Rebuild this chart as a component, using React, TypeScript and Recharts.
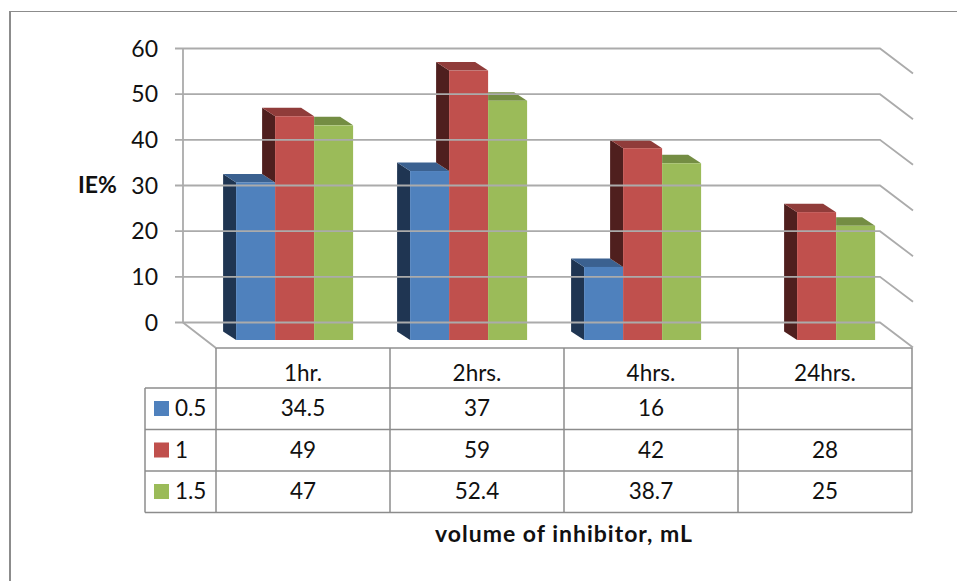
import { BarChart, Bar, XAxis, YAxis } from 'recharts';

const CATEGORIES = ['1hr.', '2hrs.', '4hrs.', '24hrs.'];
const SERIES_NAMES = ['0.5', '1', '1.5'];
const VALUES_05 = [34.5, 37, 16, null];
const VALUES_1 = [49, 59, 42, 28];
const VALUES_15 = [47, 52.4, 38.7, 25];
const Y_TICKS = [0, 10, 20, 30, 40, 50, 60];
const FRONT = ['#4F81BD', '#C0504D', '#9BBB59'];
const SIDE = ['#1F3552', '#4F1F1E', '#4F6030'];
const TOP = ['#3B6190', '#903C3A', '#748D43'];

const ALL_VALUES = [VALUES_05, VALUES_1, VALUES_15];
const DATA = CATEGORIES.map((name, i) => ({
  name,
  a: VALUES_05[i],
  b: VALUES_1[i],
  c: VALUES_15[i],
}));

const FONT = 'Lato, sans-serif';
const GREY = '#8C8C8C';
const WALL = '#ABABAB';

// bar plane sits in front of the back wall by this much
const WALL_DY = -17.5;
const SIDE_DX = 33;
const SIDE_DY = 25;
// depth of each 3d bar
const DX = 13;
const DY = 8.5;

const COL_X = [216, 390, 564, 738, 912];
const ROW_Y = [388, 429.5, 471, 512.5];
const TABLE_LEFT = 145;

const makeBar = (s: number) => (props: any) => {
  const { x, y, width, height, index } = props;
  const value = ALL_VALUES[s][index];
  if (value == null) return <g />;
  const bottom = y + height;
  const prev = s > 0 ? ALL_VALUES[s - 1][index] : null;
  const prevTop = prev == null ? bottom : bottom - (height / value) * prev;
  const hidden = prevTop < y;
  return (
    <g>
      {!hidden && (
        <polygon
          points={`${x},${y} ${x - DX},${y - DY} ${x - DX},${prevTop - DY} ${x},${prevTop}`}
          fill={SIDE[s]}
        />
      )}
      <polygon
        points={
          hidden
            ? `${x},${y} ${x},${y - DY} ${x + width - DX},${y - DY} ${x + width},${y}`
            : `${x},${y} ${x - DX},${y - DY} ${x + width - DX},${y - DY} ${x + width},${y}`
        }
        fill={TOP[s]}
      />
      <rect x={x} y={y} width={width} height={height} fill={FRONT[s]} />
    </g>
  );
};

const YTick = (props: any) => {
  const y = props.y + WALL_DY;
  return (
    <g>
      <polyline
        points={`175,${y} 880,${y} ${880 + SIDE_DX},${y + SIDE_DY}`}
        fill="none"
        stroke={WALL}
        strokeWidth={1.8}
      />
      <text x={158} y={y + 8} textAnchor="end" fontFamily={FONT} fontSize={23} fill="#111">
        {props.payload.value}
      </text>
    </g>
  );
};

const XTick = (props: any) => (
  <text
    x={props.x + 8.5}
    y={380.5}
    textAnchor="middle"
    fontFamily={FONT}
    fontSize={22.5}
    fill="#111"
  >
    {props.payload.value}
  </text>
);

const cell = { fontFamily: FONT, fontSize: 22.5, fill: '#111' };

function DataTable() {
  return (
    <g>
      {COL_X.map((x) => (
        <line key={x} x1={x} x2={x} y1={348} y2={ROW_Y[3]} stroke={GREY} strokeWidth={1.5} />
      ))}
      <line x1={TABLE_LEFT} x2={TABLE_LEFT} y1={ROW_Y[0]} y2={ROW_Y[3]} stroke={GREY} strokeWidth={1.5} />
      {ROW_Y.map((y) => (
        <line key={y} x1={TABLE_LEFT} x2={COL_X[4]} y1={y} y2={y} stroke={GREY} strokeWidth={1.5} />
      ))}
      {SERIES_NAMES.map((name, r) => (
        <g key={name}>
          <rect x={154} y={ROW_Y[r] + 13} width={15} height={15} fill={FRONT[r]} />
          <text x={175} y={ROW_Y[r] + 28} {...cell}>
            {name}
          </text>
          {ALL_VALUES[r].map((v, c) => (
            <text
              key={c}
              x={(COL_X[c] + COL_X[c + 1]) / 2}
              y={ROW_Y[r] + 28}
              textAnchor="middle"
              {...cell}
            >
              {v}
            </text>
          ))}
        </g>
      ))}
    </g>
  );
}

export default function App() {
  return (
    <div style={{ position: 'absolute', left: 0, top: 0, width: 957, height: 581, background: '#fff' }}>
      <BarChart
        width={957}
        height={581}
        data={DATA}
        margin={{ top: 66, right: 53.5, bottom: 231, left: 197.5 }}
        barCategoryGap={28.6}
        barGap={0}
      >
        <line x1={9} x2={957} y1={11.5} y2={11.5} stroke={GREY} strokeWidth={1.2} />
        <line x1={10} x2={10} y1={11} y2={581} stroke={GREY} strokeWidth={2} />
        <polyline points="183,48.5 183,322.5 216,348 912,348" fill="none" stroke={WALL} strokeWidth={1.8} />
        <XAxis dataKey="name" height={10} axisLine={false} tickLine={false} tick={<XTick />} interval={0} />
        <YAxis
          width={10}
          domain={[0, 60]}
          ticks={Y_TICKS}
          axisLine={false}
          tickLine={false}
          tick={<YTick />}
          interval={0}
        />
        <Bar dataKey="a" shape={makeBar(0)} isAnimationActive={false} />
        <Bar dataKey="b" shape={makeBar(1)} isAnimationActive={false} />
        <Bar dataKey="c" shape={makeBar(2)} isAnimationActive={false} />
        <DataTable />
        <text x={97.5} y={193} textAnchor="middle" fontFamily={FONT} fontWeight={700} fontSize={23} fill="#111">
          IE%
        </text>
        <text x={564} y={542} textAnchor="middle" fontFamily={FONT} fontWeight={700} fontSize={23} letterSpacing={1} fill="#111">
          volume of inhibitor, mL
        </text>
      </BarChart>
    </div>
  );
}
